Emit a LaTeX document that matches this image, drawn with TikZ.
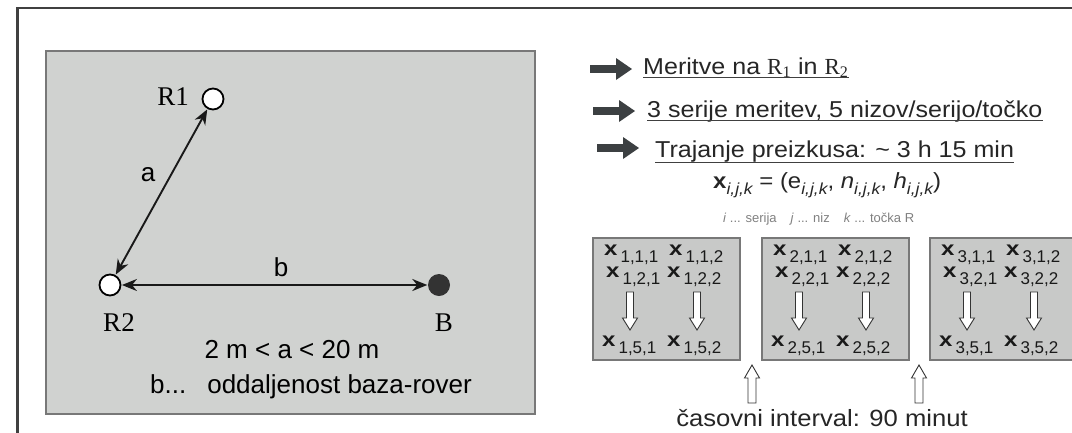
\documentclass[tikz,border=0pt]{standalone}
\usepackage{fontspec}
\setmainfont{Liberation Sans}
\newfontfamily\serifR{Liberation Serif}
\newfontfamily\wsans{Liberation Sans}[FakeStretch=1.09]
\newfontfamily\xsans{Liberation Sans}[FakeStretch=1.2]
\usetikzlibrary{arrows.meta}
\definecolor{panelgray}{RGB}{208,210,208}
\definecolor{boxgray}{RGB}{200,201,200}
\definecolor{edgegray}{RGB}{120,120,120}
\definecolor{darkarr}{RGB}{60,64,66}
\newcommand\xsub[1]{\raisebox{-7pt}{\fontsize{17}{17}\selectfont #1}}
\newcommand\xent[1]{{\xsans\bfseries x}\hspace{3pt}\xsub{#1}}
\newcommand\isub[1]{\raisebox{-6pt}{\fontsize{16}{16}\selectfont\itshape #1}}
\begin{document}
\begin{tikzpicture}[x=1pt,y=-1pt,
  frame/.style={draw=black!75,line width=2.2pt},
  panel/.style={draw=edgegray,fill=panelgray,line width=1.5pt},
  sbox/.style={draw=edgegray,fill=boxgray,line width=1.5pt},
  pt/.style={circle,draw=black,line width=1.8pt,fill=white,minimum size=21pt,inner sep=0pt},
  ptb/.style={circle,fill=black!80,minimum size=22pt,inner sep=0pt},
  dbl/.style={{Stealth[length=15pt,width=12pt]}-{Stealth[length=15pt,width=12pt]},line width=1.9pt,shorten <=0.5pt,shorten >=0.5pt,draw=black!90},
  slbl/.style={font=\serifR\fontsize{27}{27}\selectfont,inner sep=0pt},
  llbl/.style={font=\fontsize{26}{26}\selectfont,inner sep=0pt},
  rtext/.style={font=\wsans\fontsize{23}{23}\selectfont,inner sep=0pt,anchor=base west,text=black!85},
  uline/.style={draw=black!75,line width=1.2pt},
  entry/.style={font=\fontsize{20}{20}\selectfont,inner sep=0pt,anchor=base west,text=black!90},
  blockarr/.pic={\fill[darkarr] (0,-3.8) -- (26,-3.8) -- (26,-11) -- (42,0) -- (26,11) -- (26,3.8) -- (0,3.8) -- cycle;},
  downarr/.pic={\draw[black!80,fill=white,line width=0.9pt] (-3.5,0) -- (3.5,0) -- (3.5,26) -- (7.5,26) -- (0,38) -- (-7.5,26) -- (-3.5,26) -- cycle;},
  uparr/.pic={\draw[black!80,fill=white,line width=0.9pt] (0,0) -- (7.5,13) -- (4,13) -- (4,38) -- (-4,38) -- (-4,13) -- (-7.5,13) -- cycle;}
]
\useasboundingbox (0,0) rectangle (1072,432);
\clip (0,0) rectangle (1072,432);
\draw[frame] (17.5,8) rectangle (1200,600);

% left panel
\path[panel] (46,51) rectangle (535,414);
\node[pt] (R1) at (213,99) {};
\node[pt] (R2) at (110,285) {};
\node[ptb] (B) at (439,285) {};
\draw[dbl] (R2) -- (R1);
\draw[dbl] (R2) -- (B);
\node[slbl,anchor=east] (lR1) at (189,97) {R1};
\node[slbl] (lR2) at (119,323) {R2};
\node[slbl] (lB) at (444,323) {B};
\node[llbl] (la) at (148,175) {a};
\node[llbl] (lb) at (281,267) {b};
\node[llbl,anchor=base] (rng) at (292,358) {2 m < a < 20 m};
\node[llbl,anchor=base west] (desc) at (150,393) {b...\hspace{21pt}oddaljenost baza-rover};

% right bullets
\pic at (590,69) {blockarr};
\pic at (593,111) {blockarr};
\pic at (597,148) {blockarr};
\node[rtext] (t1) at (643,74) {Meritve na {\serifR R\textsubscript{1}} in {\serifR R\textsubscript{2}}};
\node[rtext] (t2) at (647,117) {3 serije meritev, 5 nizov/serijo/točko};
\node[rtext] (t3) at (655,157) {Trajanje preizkusa: \char"007E{} 3 h 15 min};
\draw[uline] ([yshift=-3.5pt]t1.base west) -- ([yshift=-3.5pt]t1.base east);
\draw[uline] ([yshift=-3.5pt]t2.base west) -- ([yshift=-3.5pt]t2.base east);
\draw[uline] ([yshift=-5.5pt]t3.base west) -- ([yshift=-5.5pt]t3.base east);

% formula
\node[inner sep=0pt,anchor=base west,font=\wsans\fontsize{22}{22}\selectfont,text=black!85] (form) at (713,188)
  {\textbf{x}\isub{i,j,k} = (e\isub{i,j,k}, \textit{n}\isub{i,j,k}, \textit{h}\isub{i,j,k})};
\node[inner sep=0pt,anchor=base west,font=\fontsize{13}{13}\selectfont,text=black!50] (legend) at (723,222)
  {\textit{i} ... serija\hspace{14pt}\textit{j} ... niz\hspace{14pt}\textit{k} ... točka R};

% three boxes
\foreach \s/\dx in {1/0,2/169,3/337}{
  \path[sbox] (593+\dx,238) rectangle (740+\dx,360);
  \node[entry] (e\s a) at (604+\dx,255) {\xent{\s,1,1}};
  \node[entry] (e\s b) at (669+\dx,255) {\xent{\s,1,2}};
  \node[entry] (e\s c) at (606+\dx,277) {\xent{\s,2,1}};
  \node[entry] (e\s d) at (667+\dx,277) {\xent{\s,2,2}};
  \node[entry] (e\s e) at (602+\dx,346) {\xent{\s,5,1}};
  \node[entry] (e\s f) at (667+\dx,346) {\xent{\s,5,2}};
  \pic at (630+\dx,292) {downarr};
  \pic at (697+\dx,292) {downarr};
}
\pic at (752,365) {uparr};
\pic at (919,365) {uparr};
\node[inner sep=0pt,anchor=base,font=\wsans\fontsize{23.5}{23.5}\selectfont,text=black!85] (interval) at (822,426) {časovni interval: 90 minut};
\end{tikzpicture}
\end{document}
